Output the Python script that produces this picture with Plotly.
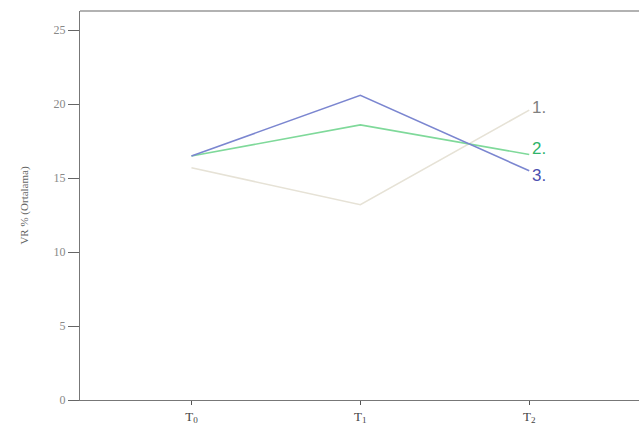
import plotly.graph_objects as go

categories = ["T0", "T1", "T2"]
tick_labels = ["T<sub>0</sub>", "T<sub>1</sub>", "T<sub>2</sub>"]
series_names = ["1.", "2.", "3."]
values_1 = [15.7, 13.2, 19.6]
values_2 = [16.5, 18.6, 16.6]
values_3 = [16.5, 20.6, 15.5]
colors = ["#e6e2d6", "#7fd99a", "#7b86d0"]
label_colors = ["#808080", "#2fb36a", "#4b4fb0"]
y_ticks = [0, 5, 10, 15, 20, 25]

fig = go.Figure()
for name, vals, c in zip(series_names, [values_1, values_2, values_3], colors):
    fig.add_trace(go.Scatter(x=categories, y=vals, mode="lines", name=name,
                             line=dict(color=c, width=1.6), showlegend=False))

label_y = [19.8, 17.0, 15.2]
for name, ly, lc in zip(series_names, label_y, label_colors):
    fig.add_annotation(x=categories[-1], y=ly, text=name, showarrow=False,
                       xanchor="left", xshift=1, yanchor="middle",
                       font=dict(family="Liberation Sans, Arial", size=17, color=lc))

fig.update_layout(
    width=639, height=430,
    margin=dict(l=80, r=0, t=11, b=30),
    paper_bgcolor="white", plot_bgcolor="white",
    font=dict(family="Liberation Serif, Times New Roman, serif", color="#555555"),
    xaxis=dict(type="category", categoryorder="array", categoryarray=categories,
               range=[-0.66, 2.65], tickvals=categories, ticktext=tick_labels,
               showline=True, linecolor="#777777", linewidth=1.2, mirror=False,
               ticks="outside", ticklen=4, tickcolor="#555555",
               showgrid=False, zeroline=False,
               tickfont=dict(size=13, color="#444444")),
    yaxis=dict(range=[0, 26.3], tickvals=y_ticks,
               showline=True, linecolor="#777777", linewidth=1.2,
               ticks="outside", ticklen=11, tickcolor="#666666",
               showgrid=False, zeroline=False,
               tickfont=dict(size=12, color="#888888"),
               title=dict(text="VR % (Ortalama)", standoff=22,
                          font=dict(size=11, color="#666666"))),
)
fig.add_shape(type="line", xref="paper", yref="paper", x0=0, x1=1, y0=1, y1=1,
              line=dict(color="#999999", width=1.5))

fig.write_html("out.html")
